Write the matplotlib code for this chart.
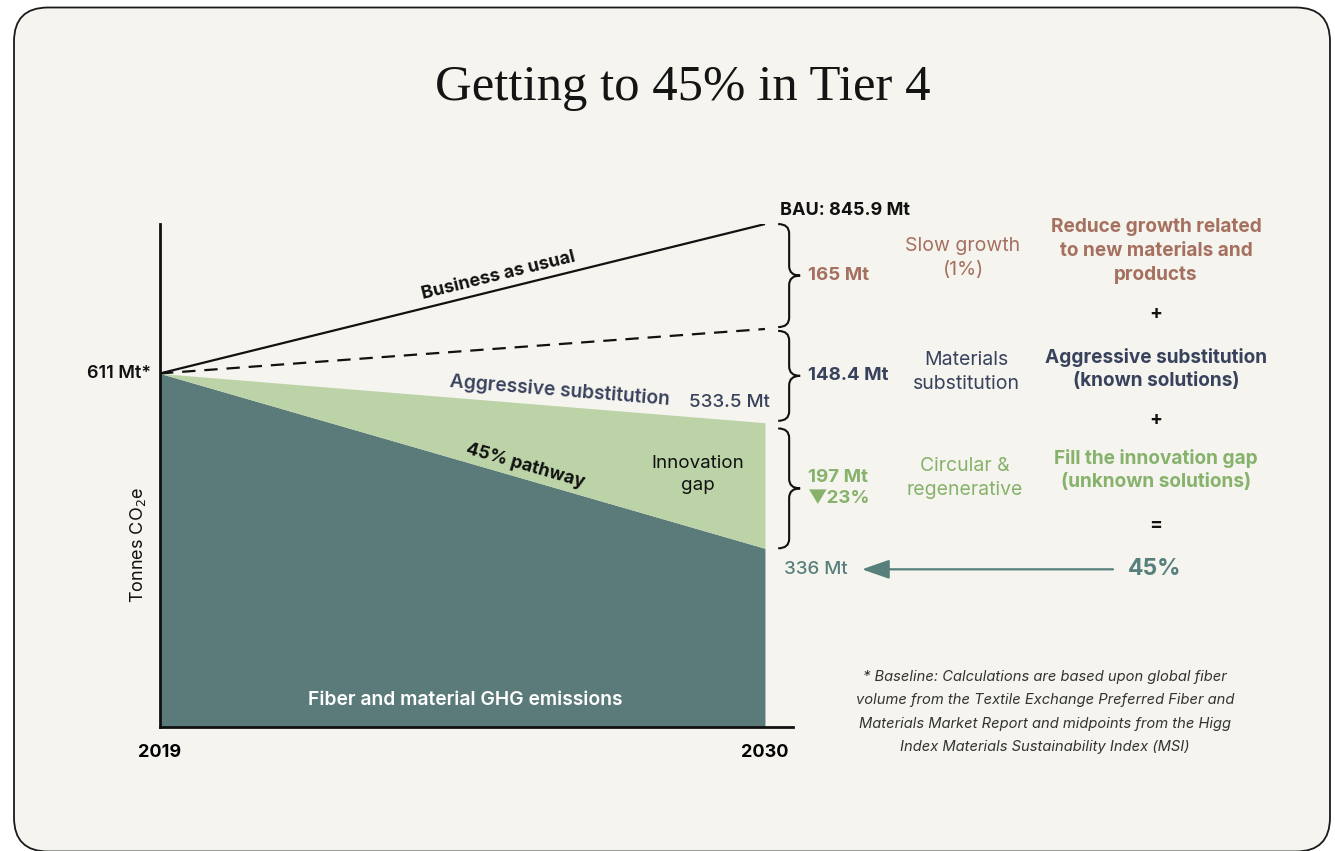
import numpy as np
import matplotlib.pyplot as plt
from matplotlib.patches import FancyBboxPatch, FancyArrowPatch, PathPatch
from matplotlib.path import Path

plt.rcParams['font.family'] = ['Inter', 'DejaVu Sans']

# Emissions in Mt CO2e
years = [2019, 2030]
baseline_2019 = 611
bau_2030 = 845.9
slow_growth_cut = 165
substitution_cut = 148.4
aggressive_2030 = 533.5
pathway_2030 = 336
innovation_cut = 197
innovation_pct = 23
target_pct = 45

bau = [baseline_2019, bau_2030]
slowed = [baseline_2019, bau_2030 - slow_growth_cut]
aggressive = [baseline_2019, aggressive_2030]
pathway = [baseline_2019, pathway_2030]

BG = '#f5f4ee'
TEAL = '#5a7b7a'
LIGHT_GREEN = '#bcd3a8'
BROWN = '#a5705f'
NAVY = '#38425d'
GREEN = '#86b26b'
TEAL_TXT = '#577f7c'

W, H = 1335, 851
fig = plt.figure(figsize=(W / 100, H / 100), dpi=100)
fig.patch.set_facecolor('white')


def fx(px):
    return px / W


def fy(py):
    return 1 - py / H


# rounded card behind everything
card = FancyBboxPatch((14 / 100, -0.5 / 100), (1330 - 14) / 100, (H - 7) / 100 + 0.5 / 100 - 0.005,
                      boxstyle='round,pad=0,rounding_size=0.34',
                      transform=fig.dpi_scale_trans, facecolor=BG, edgecolor='#1a1a1a',
                      linewidth=1.3, zorder=-5)
fig.patches.append(card)

fig.text(fx(683), fy(88), 'Getting to 45% in Tier 4', family='Liberation Serif',
         fontsize=36.5, ha='center', va='center', color='#141414')

ax = fig.add_axes([fx(160), fy(727), fx(793) - fx(160), fy(224) - fy(727)])
ax.set_facecolor('none')
ax.set_xlim(2019, 2030.51)
ax.set_ylim(55, 846)
for side in ['top', 'right']:
    ax.spines[side].set_visible(False)
for side in ['left', 'bottom']:
    ax.spines[side].set_linewidth(2)
    ax.spines[side].set_color('#111111')
ax.set_yticks([])
ax.set_xticks(years)
ax.set_xticklabels([str(y) for y in years], fontsize=13, fontweight='bold')
ax.tick_params(axis='x', length=0, pad=12)

# stacked areas
ax.fill_between(years, [0, 0], pathway, color=TEAL, linewidth=0, zorder=1)
ax.fill_between(years, pathway, aggressive, color=LIGHT_GREEN, linewidth=0, zorder=1)
ax.plot(years, bau, color='#111111', linewidth=1.6, zorder=3, solid_capstyle='butt')
ax.plot(years, slowed, color='#111111', linewidth=1.6, dashes=(6, 4), zorder=3)


def line_angle(series):
    p1 = ax.transData.transform((years[0], series[0]))
    p2 = ax.transData.transform((years[1], series[1]))
    return np.degrees(np.arctan2(p2[1] - p1[1], p2[0] - p1[0]))


def on_line(series, x):
    t = (x - years[0]) / (years[1] - years[0])
    return series[0] + t * (series[1] - series[0])


def line_label(series, x, text, offset, **kw):
    ang = line_angle(series)
    ax.annotate(text, (x, on_line(series, x)), xytext=(0, offset), textcoords='offset pixels',
                rotation=ang, rotation_mode='anchor', ha='center', va='bottom', **kw)


line_label(bau, 2025.2, 'Business as usual', 5, fontsize=13, fontweight='bold', color='#111111')
line_label(aggressive, 2026.25, 'Aggressive substitution', 6, fontsize=13.8, fontweight='semibold', color=NAVY)
line_label(pathway, 2025.6, '45% pathway', 4, fontsize=13, fontweight='bold', color='#111111')

ax.annotate(f'{baseline_2019} Mt*', (years[0], baseline_2019), xytext=(-9, 0), textcoords='offset pixels',
            ha='right', va='center', fontsize=13, fontweight='semibold', color='#111111',
            annotation_clip=False)
ax.annotate(f'BAU: {bau_2030} Mt', (years[1], bau_2030), xytext=(15, 14), textcoords='offset pixels',
            ha='left', va='center', fontsize=13, fontweight='bold', color='#111111',
            annotation_clip=False)
ax.annotate(f'{aggressive_2030} Mt', (years[1], aggressive_2030), xytext=(5, 20), textcoords='offset pixels',
            ha='right', va='center', fontsize=13.5, fontweight='medium', color=NAVY)
ax.annotate(f'{pathway_2030} Mt', (years[1], pathway_2030), xytext=(19, -21), textcoords='offset pixels',
            ha='left', va='center', fontsize=13.5, fontweight='medium', color=TEAL_TXT,
            annotation_clip=False)

ax.text(2028.78, 452, 'Innovation\ngap', ha='center', va='center', fontsize=13.5,
        color='#111111', linespacing=1.4)
ax.text(0.483, 0.054, 'Fiber and material GHG emissions', transform=ax.transAxes,
        ha='center', va='center', fontsize=13.9, fontweight='semibold', color='white')


def brace(top, bottom, x0=2030.24, h=0.2, r=15):
    mid = (top + bottom) / 2
    verts = [(x0, top), (x0 + h, top), (x0 + h, top - r),
             (x0 + h, mid + r),
             (x0 + h, mid), (x0 + 2 * h, mid),
             (x0 + h, mid), (x0 + h, mid - r),
             (x0 + h, bottom + r),
             (x0 + h, bottom), (x0, bottom)]
    codes = [Path.MOVETO, Path.CURVE3, Path.CURVE3, Path.LINETO,
             Path.CURVE3, Path.CURVE3, Path.CURVE3, Path.CURVE3,
             Path.LINETO, Path.CURVE3, Path.CURVE3]
    ax.add_patch(PathPatch(Path(verts, codes), facecolor='none', edgecolor='#111111',
                           linewidth=1.5, clip_on=False, zorder=4))
    return mid


gap = 3
mid1 = brace(bau_2030, bau_2030 - slow_growth_cut + gap)
mid2 = brace(bau_2030 - slow_growth_cut - gap, aggressive_2030 + gap)
mid3 = brace(aggressive_2030 - gap * 3, pathway_2030)

lab_x = 2030.24 + 30 / 55
ax.text(lab_x, mid1, f'{slow_growth_cut} Mt', ha='left', va='center', fontsize=13.5,
        fontweight='bold', color=BROWN, clip_on=False)
ax.text(lab_x, mid2, f'{substitution_cut} Mt', ha='left', va='center', fontsize=13.5,
        fontweight='bold', color=NAVY, clip_on=False)
ax.text(lab_x, mid3, f'{innovation_cut} Mt\n\u25bc{innovation_pct}%', ha='left', va='center',
        fontsize=13.5, fontweight='bold', color=GREEN, clip_on=False, linespacing=1.3)

# middle column
mid_kw = dict(ha='center', va='center', fontsize=14, linespacing=1.4)
fig.text(fx(963), fy(258), 'Slow growth\n(1%)', color=BROWN, **mid_kw)
fig.text(fx(966), fy(372), 'Materials\nsubstitution', color=NAVY, **mid_kw)
fig.text(fx(965), fy(478), 'Circular &\nregenerative', color=GREEN, **mid_kw)

# right column
rc = fx(1156)
right_kw = dict(ha='center', va='center', fontsize=13.7, fontweight='bold', linespacing=1.4)
fig.text(rc, fy(251), 'Reduce growth related\nto new materials and\nproducts', color=BROWN, **right_kw)
fig.text(rc, fy(314), '+', color='#111111', **right_kw)
fig.text(rc, fy(369), 'Aggressive substitution\n(known solutions)', color=NAVY, **right_kw)
fig.text(rc, fy(420), '+', color='#111111', **right_kw)
fig.text(rc, fy(470), 'Fill the innovation gap\n(unknown solutions)', color=GREEN, **right_kw)
fig.text(rc, fy(525), '=', color='#111111', **right_kw)

y336 = H - ax.transData.transform((years[1], pathway_2030))[1] + 21
fig.text(fx(1155), fy(y336), f'{target_pct}%', ha='center', va='center', fontsize=16.5,
         fontweight='bold', color=TEAL_TXT)
fig.add_artist(FancyArrowPatch(
    (fx(1113), fy(y336)), (fx(862), fy(y336)), transform=fig.transFigure,
    arrowstyle='-|>,head_length=1.2,head_width=0.42', mutation_scale=14,
    color=TEAL_TXT, linewidth=1.6, shrinkA=0, shrinkB=0))

fig.text(fx(138), fy(545), 'Tonnes CO$_2$e', rotation=90, ha='center', va='center',
         fontsize=13, color='#111111')

fig.text(fx(1045), fy(712),
         '* Baseline: Calculations are based upon global fiber\n'
         'volume from the Textile Exchange Preferred Fiber and\n'
         'Materials Market Report and midpoints from the Higg\n'
         'Index Materials Sustainability Index (MSI)',
         ha='center', va='center', fontsize=10.6, style='italic', color='#333333',
         linespacing=1.85)

fig.savefig('out.png', dpi=100, facecolor='white')
